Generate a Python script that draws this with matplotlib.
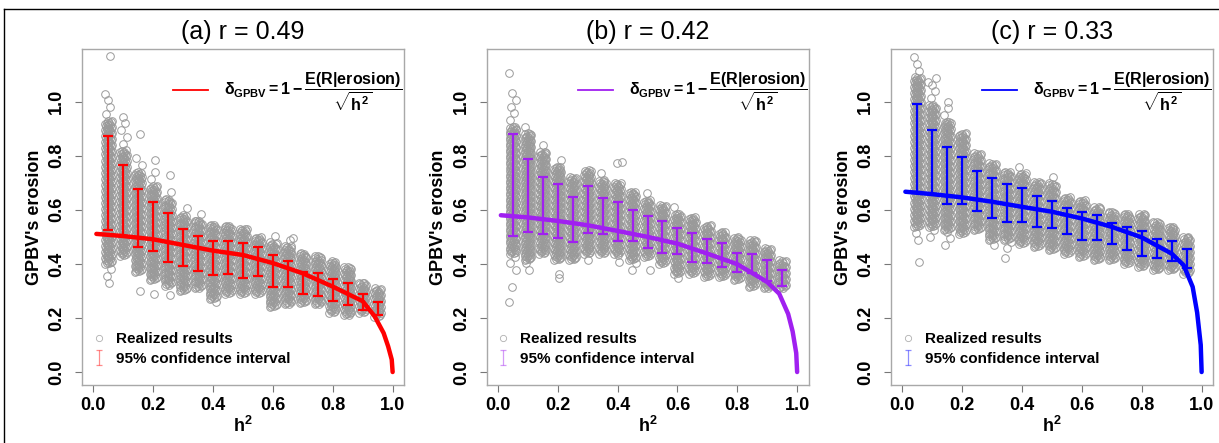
import numpy as np
import matplotlib.pyplot as plt
from matplotlib.lines import Line2D

plt.rcParams['font.family'] = ['Liberation Sans', 'DejaVu Sans']
plt.rcParams['mathtext.fontset'] = 'custom'
plt.rcParams['mathtext.rm'] = 'Liberation Sans:bold'
plt.rcParams['mathtext.it'] = 'Liberation Sans:bold'
plt.rcParams['mathtext.bf'] = 'Liberation Sans:bold'

# h^2 levels of the simulation columns
h2_cols = [0.05, 0.10, 0.15, 0.20, 0.25, 0.30, 0.35, 0.40, 0.45, 0.50,
           0.55, 0.60, 0.65, 0.70, 0.75, 0.80, 0.85, 0.90, 0.95]

titles = ["(a) r = 0.49", "(b) r = 0.42", "(c) r = 0.33"]
colors = ["#ff0000", "#a020f0", "#0000ff"]

# 95% confidence intervals (lower, upper)
ci_lo_a = [0.527, 0.503, 0.461, 0.448, 0.407, 0.393, 0.372, 0.359, 0.361, 0.349,
           0.356, 0.315, 0.313, 0.288, 0.280, 0.261, 0.247, 0.229, 0.210]
ci_hi_a = [0.872, 0.765, 0.677, 0.628, 0.590, 0.529, 0.503, 0.484, 0.484, 0.476,
           0.461, 0.433, 0.412, 0.371, 0.365, 0.345, 0.330, 0.290, 0.260]
ci_lo_b = [0.502, 0.519, 0.509, 0.496, 0.480, 0.515, 0.509, 0.484, 0.484, 0.460,
           0.441, 0.438, 0.406, 0.404, 0.389, 0.370, 0.368, 0.338, 0.319]
ci_hi_b = [0.879, 0.789, 0.723, 0.694, 0.646, 0.688, 0.644, 0.630, 0.601, 0.578,
           0.560, 0.533, 0.515, 0.493, 0.479, 0.441, 0.437, 0.414, 0.379]
ci_lo_c = [0.667, 0.658, 0.623, 0.620, 0.595, 0.568, 0.554, 0.554, 0.537, 0.531,
           0.509, 0.490, 0.490, 0.475, 0.453, 0.428, 0.420, 0.411, 0.383]
ci_hi_c = [0.991, 0.895, 0.833, 0.794, 0.744, 0.716, 0.695, 0.681, 0.652, 0.632,
           0.607, 0.593, 0.580, 0.553, 0.537, 0.521, 0.491, 0.483, 0.454]

# realized results: dense band and sparse tails per column
band_lo_a = [0.40, 0.43, 0.37, 0.34, 0.32, 0.30, 0.31, 0.27, 0.29, 0.29,
             0.29, 0.24, 0.25, 0.255, 0.25, 0.22, 0.21, 0.22, 0.205]
band_hi_a = [0.93, 0.82, 0.74, 0.69, 0.64, 0.58, 0.56, 0.545, 0.54, 0.53,
             0.50, 0.48, 0.465, 0.44, 0.43, 0.41, 0.39, 0.33, 0.31]
tail_lo_a = [0.33, 0.43, 0.37, 0.34, 0.32, 0.30, 0.31, 0.26, 0.29, 0.29,
             0.29, 0.24, 0.25, 0.255, 0.25, 0.22, 0.21, 0.22, 0.205]
tail_hi_a = [1.04, 0.95, 0.80, 0.74, 0.67, 0.61, 0.59, 0.565, 0.55, 0.545,
             0.515, 0.515, 0.50, 0.44, 0.43, 0.41, 0.39, 0.33, 0.31]
out_x_a = [0.057, 0.156, 0.155, 0.206, 0.204, 0.256, 0.256, 0.668]
out_y_a = [1.17, 0.88, 0.30, 0.785, 0.29, 0.73, 0.286, 0.496]

band_lo_b = [0.438, 0.414, 0.438, 0.414, 0.414, 0.438, 0.438, 0.438, 0.414, 0.426,
             0.401, 0.364, 0.364, 0.352, 0.352, 0.34, 0.315, 0.309, 0.309]
band_hi_b = [0.907, 0.883, 0.815, 0.76, 0.72, 0.747, 0.71, 0.70, 0.667, 0.636,
             0.617, 0.586, 0.574, 0.543, 0.519, 0.50, 0.488, 0.457, 0.414]
tail_lo_b = [0.377, 0.377, 0.438, 0.414, 0.414, 0.414, 0.438, 0.407, 0.377, 0.426,
             0.401, 0.346, 0.364, 0.352, 0.352, 0.34, 0.315, 0.309, 0.309]
tail_hi_b = [1.037, 0.926, 0.84, 0.80, 0.74, 0.77, 0.74, 0.70, 0.685, 0.68,
             0.636, 0.611, 0.593, 0.556, 0.519, 0.50, 0.488, 0.457, 0.414]
out_x_b = [0.037, 0.048, 0.037, 0.204, 0.204, 0.399, 0.415, 0.51]
out_y_b = [1.105, 0.315, 0.259, 0.364, 0.348, 0.772, 0.778, 0.377]

band_lo_c = [0.537, 0.537, 0.525, 0.512, 0.525, 0.488, 0.488, 0.475, 0.463, 0.451,
             0.438, 0.426, 0.414, 0.414, 0.401, 0.389, 0.377, 0.377, 0.364]
band_hi_c = [1.09, 0.988, 0.926, 0.883, 0.809, 0.772, 0.741, 0.735, 0.704, 0.698,
             0.648, 0.636, 0.611, 0.593, 0.586, 0.586, 0.556, 0.537, 0.50]
tail_lo_c = [0.488, 0.50, 0.469, 0.512, 0.525, 0.469, 0.457, 0.475, 0.463, 0.451,
             0.438, 0.426, 0.414, 0.414, 0.401, 0.389, 0.377, 0.377, 0.364]
tail_hi_c = [1.17, 1.09, 1.0, 0.895, 0.827, 0.79, 0.759, 0.759, 0.722, 0.722,
             0.667, 0.648, 0.611, 0.593, 0.586, 0.586, 0.556, 0.537, 0.50]
out_x_c = [0.054, 0.087, 0.151, 0.344]
out_y_c = [0.407, 1.074, 0.998, 0.42]

# theoretical erosion curve
curve_h2 = [0.01, 0.1, 0.2, 0.3, 0.4, 0.5, 0.6, 0.7, 0.8, 0.9,
            0.94, 0.97, 0.985, 0.997, 1.0]
curve_a = [0.511, 0.503, 0.491, 0.470, 0.449, 0.433, 0.403, 0.365, 0.316, 0.262,
           0.206, 0.144, 0.095, 0.046, 0.0]
curve_b = [0.580, 0.572, 0.559, 0.543, 0.522, 0.500, 0.475, 0.438, 0.399, 0.333,
           0.290, 0.215, 0.150, 0.070, 0.0]
curve_c = [0.667, 0.658, 0.646, 0.630, 0.611, 0.593, 0.568, 0.537, 0.498, 0.438,
           0.395, 0.315, 0.220, 0.100, 0.0]

panels = [
    (ci_lo_a, ci_hi_a, band_lo_a, band_hi_a, tail_lo_a, tail_hi_a, out_x_a, out_y_a, curve_a),
    (ci_lo_b, ci_hi_b, band_lo_b, band_hi_b, tail_lo_b, tail_hi_b, out_x_b, out_y_b, curve_b),
    (ci_lo_c, ci_hi_c, band_lo_c, band_hi_c, tail_lo_c, tail_hi_c, out_x_c, out_y_c, curve_c),
]

W, H = 1219, 443
fig = plt.figure(figsize=(W / 100, H / 100), dpi=100)

grey = "#9a9a9a"
offs = np.array([-0.011, 0.003, -0.006, 0.009, -0.002, 0.012, -0.009, 0.006, 0.0])
formula = r"$\delta_{GPBV} = 1 - \dfrac{E(R|erosion)}{\sqrt{h^2}}$"

for i, (lo, hi, blo, bhi, tlo, thi, ox, oy, cv) in enumerate(panels):
    ax = fig.add_axes([(82 + 404.5 * i) / W, 58 / H, 322 / W, 336 / H])
    col = colors[i]

    # realized results cloud
    xs, ys = [], []
    for j, x0 in enumerate(h2_cols):
        dense = np.arange(blo[j], bhi[j], 0.0025)
        sparse = np.concatenate([np.arange(bhi[j], thi[j] + 0.001, 0.025),
                                 np.arange(tlo[j], blo[j], 0.025)])
        yy = np.concatenate([dense, sparse])
        xs.extend(x0 + offs[np.arange(len(yy)) % len(offs)])
        ys.extend(yy)
    xs.extend(ox)
    ys.extend(oy)
    ax.plot(xs, ys, 'o', ms=5.5, mfc='none', mec=grey, mew=0.7, zorder=1)

    # theoretical curve
    ax.plot(curve_h2, cv, color=col, lw=3.2, solid_capstyle='round', zorder=3)

    # confidence intervals
    mid = [(a + b) / 2 for a, b in zip(lo, hi)]
    err = [[m - a for m, a in zip(mid, lo)], [b - m for m, b in zip(mid, hi)]]
    ax.errorbar(h2_cols, mid, yerr=err, fmt='none', ecolor=col, elinewidth=1.6,
                capsize=3.5, capthick=1.6, zorder=4)

    ax.set_xlim(-0.038, 1.038)
    ax.set_ylim(-0.048, 1.195)
    ax.set_xticks([0.0, 0.2, 0.4, 0.6, 0.8, 1.0])
    ax.set_yticks([0.0, 0.2, 0.4, 0.6, 0.8, 1.0])
    ax.set_xticklabels(["0.0", "0.2", "0.4", "0.6", "0.8", "1.0"], fontsize=13, fontweight='bold')
    ax.set_yticklabels(["0.0", "0.2", "0.4", "0.6", "0.8", "1.0"], fontsize=13, fontweight='bold',
                       rotation=90, va='center')
    ax.tick_params(direction='out', length=5, width=0.8, color='#777777', pad=4)
    ax.tick_params(axis='y', pad=7)
    for s in ax.spines.values():
        s.set_color('#a8a8a8')
        s.set_linewidth(1.0)

    ax.set_xlabel(r"h$^{\mathbf{2}}$", fontsize=13, fontweight='bold', labelpad=1)
    ax.set_ylabel("GPBV's erosion", fontsize=13, fontweight='bold', labelpad=4)
    ax.set_title(titles[i], fontsize=18, pad=7)

    # legends
    h_line = Line2D([], [], color=col, lw=1.3)
    leg1 = ax.legend([h_line], [formula], loc='center right', bbox_to_anchor=(0.995, 0.872),
                     frameon=False, fontsize=11.5, handlelength=2.2, handletextpad=1.0,
                     borderaxespad=0, borderpad=0)
    ax.add_artist(leg1)
    h_pt = Line2D([], [], ls='none', marker='o', ms=4.5, mfc='none', mec='#b0b0b0', mew=0.6)
    h_ci = ax.errorbar([-5], [-5], yerr=[0.1], fmt='none', ecolor=col, alpha=0.45,
                       elinewidth=0.9, capsize=2.5, capthick=0.9)
    leg2 = ax.legend([h_pt, h_ci], ["Realized results", "95% confidence interval"],
                     loc='lower left', bbox_to_anchor=(0.0, 0.03), frameon=False,
                     prop={'size': 11, 'weight': 'bold'}, handlelength=1.0,
                     handletextpad=0.6, labelspacing=0.35, borderaxespad=0.2)

# outer frame
fig.add_artist(Line2D([4 / W, 4 / W], [0, 1 - 9 / H], transform=fig.transFigure, color='black', lw=1))
fig.add_artist(Line2D([4 / W, 1], [1 - 9 / H, 1 - 9 / H], transform=fig.transFigure, color='black', lw=1))

fig.savefig("out.png", dpi=100)
